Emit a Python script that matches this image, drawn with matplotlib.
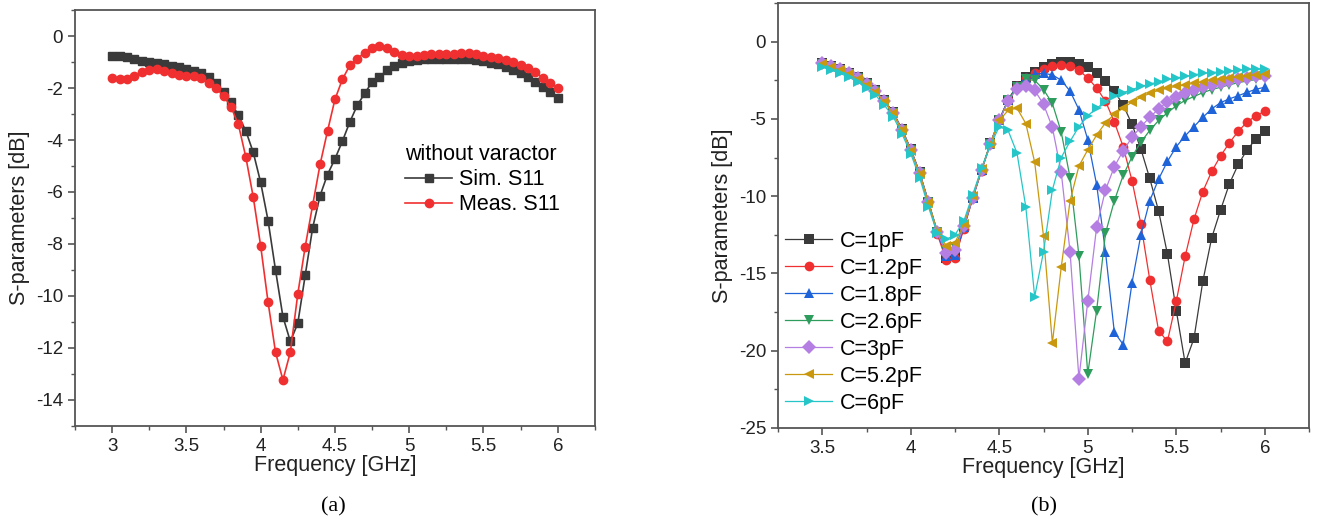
import matplotlib
matplotlib.use("Agg")
import matplotlib.pyplot as plt
import numpy as np
from matplotlib.ticker import MultipleLocator

plt.rcParams['font.family'] = ['Liberation Sans', 'DejaVu Sans']
plt.rcParams['axes.unicode_minus'] = False

# ---- panel (a): without varactor ----
freq_a = np.round(np.arange(3.0, 6.0001, 0.05), 2)
sim_s11 = [-0.77, -0.75, -0.82, -0.90, -0.97, -1.00, -1.03, -1.08, -1.14, -1.20,
           -1.26, -1.33, -1.43, -1.57, -1.80, -2.15, -2.55, -3.05, -3.65, -4.47,
           -5.63, -7.10, -9.00, -10.80, -11.75, -11.05, -9.20, -7.38, -6.14, -5.33,
           -4.73, -4.05, -3.31, -2.67, -2.21, -1.77, -1.57, -1.32, -1.17, -1.05,
           -0.97, -0.92, -0.90, -0.88, -0.87, -0.87, -0.87, -0.88, -0.90, -0.93,
           -0.97, -1.02, -1.08, -1.18, -1.30, -1.42, -1.58, -1.75, -1.95, -2.15,
           -2.38]
meas_s11 = [-1.63, -1.66, -1.65, -1.55, -1.40, -1.30, -1.27, -1.33, -1.43, -1.50,
            -1.53, -1.55, -1.63, -1.80, -2.00, -2.30, -2.72, -3.40, -4.65, -6.19,
            -8.07, -10.24, -12.16, -13.23, -12.16, -9.92, -8.10, -6.51, -4.94, -3.66,
            -2.44, -1.67, -1.13, -0.87, -0.64, -0.47, -0.40, -0.45, -0.60, -0.72,
            -0.78, -0.76, -0.73, -0.71, -0.70, -0.70, -0.69, -0.67, -0.66, -0.70,
            -0.75, -0.80, -0.85, -0.92, -1.00, -1.10, -1.22, -1.40, -1.60, -1.80,
            -1.99]

# ---- panel (b): with varactor, several capacitances ----
freq_b = np.round(np.arange(3.5, 6.0001, 0.05), 2)
labels_b = ["C=1pF", "C=1.2pF", "C=1.8pF", "C=2.6pF", "C=3pF", "C=5.2pF", "C=6pF"]
c_1p0 = [-1.35, -1.55, -1.75, -2.0, -2.3, -2.7, -3.15, -3.8, -4.55, -5.65,
         -6.95, -8.45, -10.35, -12.3, -14.0, -13.9, -12.0, -10.1, -8.3, -6.55,
         -5.05, -3.75, -2.85, -2.3, -1.95, -1.65, -1.45, -1.33, -1.3, -1.42,
         -1.65, -2.05, -2.55, -3.2, -4.1, -5.35, -6.95, -8.85, -10.95, -13.75,
         -17.4, -20.8, -19.2, -15.5, -12.7, -10.9, -9.2, -7.95, -7.0, -6.3, -5.8]
c_1p2 = [-1.38, -1.58, -1.78, -2.03, -2.33, -2.73, -3.18, -3.83, -4.6, -5.7,
         -7.0, -8.5, -10.45, -12.45, -14.15, -14.0, -12.1, -10.15, -8.35, -6.6,
         -5.1, -3.8, -2.9, -2.35, -2.0, -1.75, -1.58, -1.5, -1.55, -1.85,
         -2.35, -3.0, -3.85, -5.2, -6.8, -9.0, -11.8, -15.4, -18.7, -19.4,
         -16.8, -13.9, -11.5, -9.7, -8.4, -7.4, -6.55, -5.8, -5.2, -4.8, -4.5]
c_1p8 = [-1.4, -1.6, -1.8, -2.05, -2.35, -2.75, -3.2, -3.85, -4.6, -5.7,
         -7.0, -8.5, -10.4, -12.35, -13.9, -13.8, -12.0, -10.1, -8.3, -6.6,
         -5.1, -3.8, -2.9, -2.35, -2.1, -2.05, -2.15, -2.5, -3.2, -4.4,
         -6.35, -9.25, -13.6, -18.8, -19.6, -15.6, -12.5, -10.3, -8.9, -7.75,
         -6.8, -6.1, -5.5, -4.9, -4.35, -3.95, -3.7, -3.5, -3.28, -3.08, -2.95]
c_2p6 = [-1.42, -1.62, -1.82, -2.07, -2.37, -2.77, -3.22, -3.87, -4.62, -5.72,
         -7.02, -8.52, -10.4, -12.3, -13.5, -13.3, -11.9, -10.05, -8.3, -6.6,
         -5.1, -3.8, -2.95, -2.45, -2.5, -3.1, -4.0, -5.85, -8.8, -13.85,
         -21.5, -17.4, -12.4, -10.3, -8.65, -7.45, -6.5, -5.75, -5.1, -4.6,
         -4.15, -3.8, -3.55, -3.3, -3.1, -2.95, -2.8, -2.65, -2.55, -2.45, -2.35]
c_3p0 = [-1.4, -1.6, -1.8, -2.05, -2.35, -2.75, -3.2, -3.85, -4.6, -5.7,
         -7.0, -8.5, -10.4, -12.35, -13.7, -13.5, -11.95, -10.1, -8.3, -6.6,
         -5.1, -3.85, -3.05, -2.9, -3.15, -4.05, -5.55, -8.45, -13.6, -21.8,
         -16.8, -12.0, -9.6, -8.1, -7.05, -6.2, -5.5, -4.9, -4.35, -3.9,
         -3.6, -3.35, -3.15, -2.95, -2.8, -2.65, -2.55, -2.45, -2.35, -2.25, -2.2]
c_5p2 = [-1.45, -1.65, -1.85, -2.1, -2.4, -2.8, -3.25, -3.9, -4.65, -5.75,
         -7.05, -8.55, -10.45, -12.3, -13.2, -13.0, -11.8, -10.0, -8.25, -6.6,
         -5.1, -4.45, -4.3, -5.3, -7.8, -12.6, -19.5, -14.6, -10.3, -8.05,
         -7.0, -6.05, -5.25, -4.7, -4.3, -3.9, -3.6, -3.35, -3.15, -3.0,
         -2.9, -2.8, -2.7, -2.6, -2.5, -2.42, -2.35, -2.28, -2.2, -2.15, -2.08]
c_6p0 = [-1.65, -1.85, -2.05, -2.3, -2.6, -3.0, -3.45, -4.1, -4.85, -5.95,
         -7.25, -8.8, -10.7, -12.4, -12.8, -12.5, -11.6, -9.9, -8.2, -6.7,
         -5.5, -5.75, -7.2, -10.7, -16.5, -13.6, -9.6, -7.5, -6.45, -5.5,
         -4.8, -4.3, -3.9, -3.5, -3.3, -3.1, -2.9, -2.75, -2.6, -2.45,
         -2.35, -2.25, -2.15, -2.05, -2.0, -1.95, -1.9, -1.85, -1.8, -1.78, -1.75]
series_b = [c_1p0, c_1p2, c_1p8, c_2p6, c_3p0, c_5p2, c_6p0]
colors_b = ["#3a3a3a", "#f03030", "#1f63d8", "#2e9c5c", "#b47ee2", "#c9980e", "#26c6c8"]
markers_b = ["s", "o", "^", "v", "D", "<", ">"]

spine_col = "#555555"
text_col = "#222222"


def style_axes(ax):
    for s in ax.spines.values():
        s.set_color(spine_col)
        s.set_linewidth(1.3)
    ax.tick_params(which="both", direction="out", colors=spine_col,
                   labelcolor=text_col, labelsize=13.5, top=False, right=False)
    ax.tick_params(which="major", length=5, width=1.2, pad=3.5)
    ax.tick_params(which="minor", length=3, width=1.0)


fig = plt.figure(figsize=(13.22, 5.27), dpi=100)

# ===============================  (a)  ====================================
ax1 = fig.add_axes([0.0567, 0.1917, 0.3933, 0.7893])
ax1.plot(freq_a, sim_s11, color="#3a3a3a", lw=1.2, marker="s", ms=5.5,
         label="Sim. S11")
ax1.plot(freq_a, meas_s11, color="#f03030", lw=1.2, marker="o", ms=6,
         label="Meas. S11")
ax1.set_xlim(2.75, 6.25)
ax1.set_ylim(-15, 1)
ax1.xaxis.set_minor_locator(MultipleLocator(0.25))
ax1.yaxis.set_major_locator(MultipleLocator(2))
ax1.yaxis.set_minor_locator(MultipleLocator(1))
ax1.set_xticks([3, 3.5, 4, 4.5, 5, 5.5, 6], ["3", "3.5", "4", "4.5", "5", "5.5", "6"])
style_axes(ax1)
ax1.set_xlabel("Frequency [GHz]", fontsize=15.5, color=text_col, labelpad=0)
ax1.set_ylabel("S-parameters [dB]", fontsize=15.5, color=text_col, labelpad=4)
ax1.legend(title="without varactor", loc="upper left",
           bbox_to_anchor=(0.3064, 0.727), bbox_transform=fig.transFigure,
           frameon=False, fontsize=15.5, title_fontsize=15.5, alignment="left",
           borderpad=0, borderaxespad=0, handlelength=2.2,
           handletextpad=0.3, labelspacing=0.2)

# ===============================  (b)  ====================================
ax2 = fig.add_axes([0.5885, 0.1879, 0.4017, 0.8064])
for ys, lab, col, mk in zip(series_b, labels_b, colors_b, markers_b):
    ax2.plot(freq_b, ys, color=col, lw=0.9, marker=mk, ms=7,
             markeredgewidth=0, label=lab)
ax2.set_xlim(3.25, 6.25)
ax2.set_ylim(-25, 2.5)
ax2.xaxis.set_minor_locator(MultipleLocator(0.25))
ax2.set_xticks([3.5, 4, 4.5, 5, 5.5, 6], ["3.5", "4", "4.5", "5", "5.5", "6"])
ax2.yaxis.set_major_locator(MultipleLocator(5))
ax2.yaxis.set_minor_locator(MultipleLocator(2.5))
style_axes(ax2)
ax2.set_xlabel("Frequency [GHz]", fontsize=15.5, color=text_col, labelpad=0)
ax2.set_ylabel("S-parameters [dB]", fontsize=15.5, color=text_col, labelpad=4)
ax2.legend(loc="upper left", bbox_to_anchor=(0.5938, 0.562),
           bbox_transform=fig.transFigure, frameon=False, fontsize=15.5,
           borderpad=0, borderaxespad=0, handlelength=2.2,
           handletextpad=0.35, labelspacing=0.28)

fig.text(0.252, 0.038, "(a)", family=["Liberation Serif", "DejaVu Serif"],
         fontsize=16, ha="center", va="center", color="black")
fig.text(0.790, 0.038, "(b)", family=["Liberation Serif", "DejaVu Serif"],
         fontsize=16, ha="center", va="center", color="black")

fig.savefig("out.png", dpi=100)
